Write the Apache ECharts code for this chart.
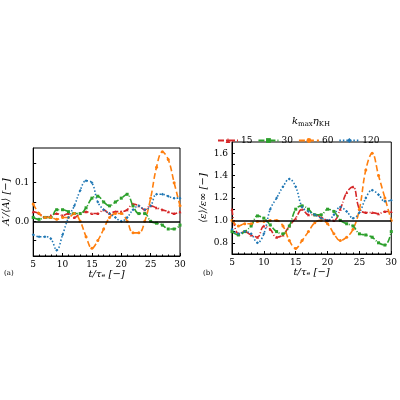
<!DOCTYPE html>
<html><head><meta charset="utf-8">
<script src="https://cdn.jsdelivr.net/npm/echarts@6/dist/echarts.min.js"></script>
<style>body{margin:0}#c{width:400px;height:400px}</style>
</head><body><div id="c"></div>
<script>
// 时间轴
const t = [5,6,7,8,9,10,11,12,13,14,15,16,17,18,19,20,21,22,23,24,25,26,27,28,29,30];
const names = ['15', '30', '60', '120'];

// (a) A'/<A>
const a15 = [0.025,0.02,0.01,0.015,0.02,0.015,0.02,0.01,0.02,0.025,0.02,0.02,0.03,0.02,0.025,0.025,0.03,0.045,0.04,0.03,0.04,0.035,0.03,0.025,0.02,0.025];
const a30 = [0.01,0.005,0.01,0.01,0.03,0.03,0.025,0.02,0.02,0.035,0.06,0.065,0.05,0.04,0.05,0.06,0.07,0.04,0.02,0.02,0.0,-0.005,-0.01,-0.02,-0.02,-0.01];
const a60 = [0.045,0.02,0.01,0.01,0.005,0.01,0.01,0.02,0.0,-0.04,-0.07,-0.05,-0.02,0.01,0.02,0.02,0.0,-0.03,-0.03,0.0,0.06,0.14,0.18,0.16,0.1,0.04];
const a120 = [-0.035,-0.04,-0.04,-0.045,-0.075,-0.035,0.01,0.04,0.08,0.105,0.1,0.05,0.03,0.02,0.01,0.0,0.01,0.03,0.04,0.03,0.04,0.07,0.07,0.065,0.06,0.06];

// (b) <eps>/eps_inf
const b15 = [1.1,0.88,0.9,0.87,0.85,0.95,0.92,0.85,0.87,0.95,1.02,1.1,1.05,1.05,1.03,1.0,1.0,1.1,1.25,1.3,1.1,1.07,1.07,1.06,1.08,1.08];
const b30 = [0.9,0.87,0.9,0.95,1.04,1.02,0.96,0.9,0.88,0.95,1.1,1.13,1.1,1.05,1.05,1.1,1.08,1.0,0.97,0.95,0.88,0.87,0.85,0.8,0.78,0.9];
const b60 = [1.0,0.95,0.97,0.97,0.99,0.99,1.0,1.0,0.95,0.82,0.75,0.82,0.9,0.98,1.0,0.97,0.88,0.82,0.85,0.92,1.1,1.45,1.6,1.4,1.2,1.0];
const b120 = [0.92,0.88,0.9,0.88,0.8,0.88,1.1,1.2,1.3,1.37,1.3,1.12,1.08,1.05,1.02,1.0,1.05,1.12,1.08,1.02,1.07,1.2,1.27,1.23,1.17,1.18];

const colors = ['#d62728', '#2ca02c', '#ff7f0e', '#1f77b4'];
const symbols = ['triangle', 'rect', 'circle', 'diamond'];
const dashes = [[6,2,1,2], [6,2,1,2], [6,3], [1.5,2]];
const font = 'DejaVu Serif';

const pair = (ys) => t.map((x, i) => [x, ys[i]]);

function makeSeries(data, idx, ref) {
    return data.map((ys, k) => ({
        name: names[k], type: 'line', xAxisIndex: idx, yAxisIndex: idx,
        data: pair(ys), smooth: 0.4, symbol: symbols[k], symbolSize: 3,
        itemStyle: { color: colors[k] },
        lineStyle: { color: colors[k], width: 1.6, type: dashes[k] },
        markLine: k === 0 ? {
            silent: true, symbol: 'none', label: { show: false },
            lineStyle: { color: '#000', width: 1.5, type: 'solid' },
            data: [{ yAxis: ref }]
        } : undefined,
        z: 3
    }));
}

const xAxisBase = (idx) => ({
    type: 'value', gridIndex: idx, min: 5, max: 30, interval: 5,
    name: 't/τₑ [−]', nameLocation: 'middle', nameGap: 13,
    nameTextStyle: { fontFamily: font, fontSize: 10, color: '#000', fontStyle: 'italic' },
    axisLine: { onZero: false, lineStyle: { color: '#000' } },
    axisTick: { inside: true, length: 3, lineStyle: { color: '#000' } },
    minorTick: { show: true, splitNumber: 5, length: 1.5, lineStyle: { color: '#000' } },
    axisLabel: { fontFamily: font, fontSize: 9, color: '#000', margin: 4 },
    splitLine: { show: false }
});

const yAxisBase = (idx, min, max, labels, ticks, name) => ({
    type: 'value', gridIndex: idx, min: min, max: max,
    name: name, nameLocation: 'middle', nameGap: idx === 0 ? 18 : 24,
    nameTextStyle: { fontFamily: font, fontSize: 10, color: '#000', fontStyle: 'italic' },
    axisLine: { onZero: false, lineStyle: { color: '#000' } },
    axisTick: { inside: true, length: 3, customValues: ticks, lineStyle: { color: '#000' } },
    axisLabel: { fontFamily: font, fontSize: 9, color: '#000', margin: 4, customValues: labels,
        formatter: (v) => v.toFixed(1) },
    splitLine: { show: false }
});

const chart = echarts.init(document.getElementById('c'));
chart.setOption({
    animation: false,
    backgroundColor: '#fff',
    grid: [
        { left: 28, top: 148, width: 152, height: 108, show: true, borderColor: '#000', borderWidth: 1 },
        { left: 232, top: 142, width: 161, height: 112, show: true, borderColor: '#000', borderWidth: 1 }
    ],
    legend: {
        data: names, top: 131, left: 212, width: 190, itemGap: 5, itemWidth: 20, itemHeight: 6,
        textStyle: { fontFamily: font, fontSize: 9, color: '#000', padding: [0, 0, 0, -2] }
    },
    xAxis: [xAxisBase(0), xAxisBase(1)],
    yAxis: [
        yAxisBase(0, -0.09, 0.19, [0, 0.1], [-0.05, 0, 0.05, 0.1, 0.15], "A′/⟨A⟩ [−]"),
        yAxisBase(1, 0.7, 1.7, [0.8, 1.0, 1.2, 1.4, 1.6], [0.8, 0.9, 1.0, 1.1, 1.2, 1.3, 1.4, 1.5, 1.6], '⟨ε⟩/ε∞ [−]')
    ],
    graphic: [
        { type: 'text', left: 292, top: 116, style: { text: '{i|k}{s|max}{i|η}{s|KH}', rich: {
            i: { fontFamily: font, fontSize: 10, fontStyle: 'italic' },
            s: { fontFamily: font, fontSize: 7, verticalAlign: 'bottom', padding: [6, 0, 0, 0] } } } },
        { type: 'text', left: 4, top: 270, style: { text: '(a)', fontFamily: font, fontSize: 7 } },
        { type: 'text', left: 203, top: 270, style: { text: '(b)', fontFamily: font, fontSize: 7 } }
    ],
    series: [
        ...makeSeries([a15, a30, a60, a120], 0, 0),
        ...makeSeries([b15, b30, b60, b120], 1, 1)
    ]
});
</script>
</body></html>
